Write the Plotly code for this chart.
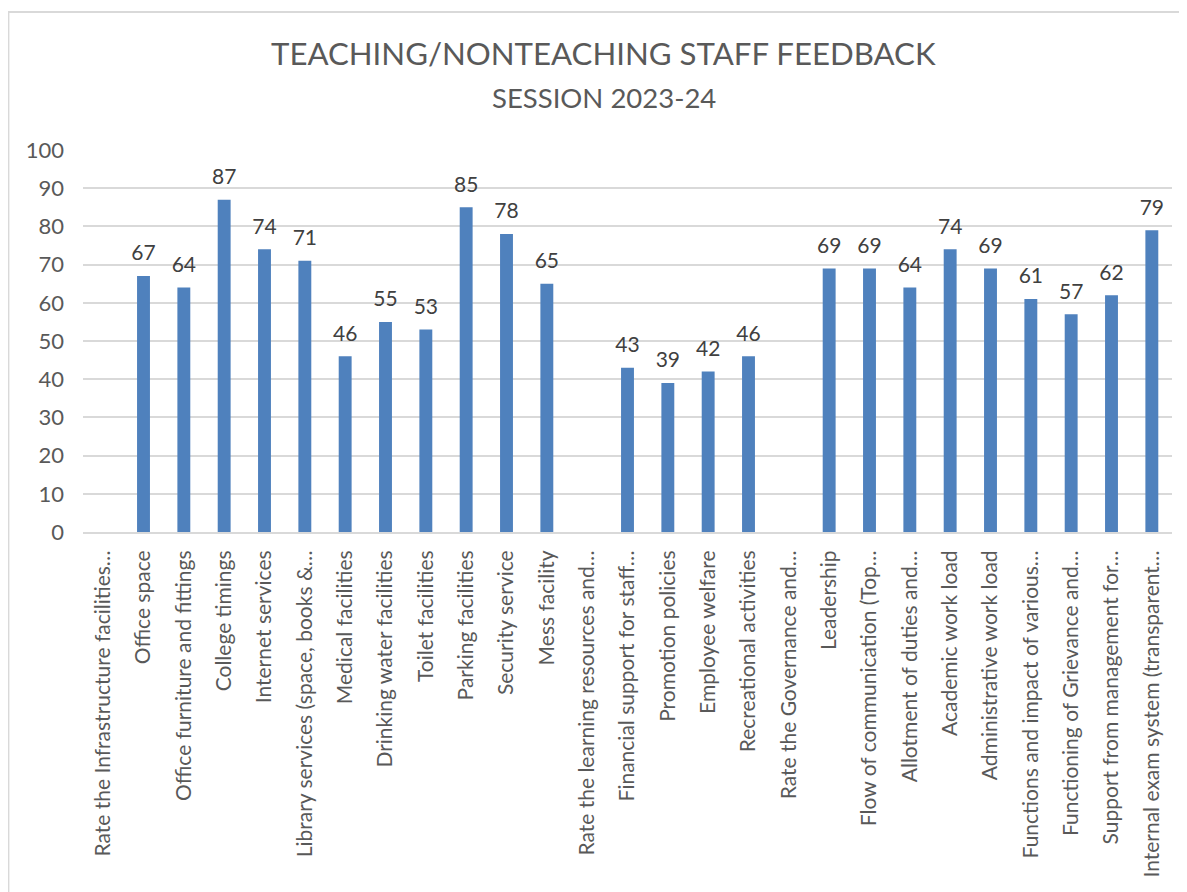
import plotly.graph_objects as go

categories = [
    "Rate the Infrastructure facilities…",
    "Office space",
    "Office furniture and fittings",
    "College timings",
    "Internet services",
    "Library services (space, books &…",
    "Medical facilities",
    "Drinking water facilities",
    "Toilet facilities",
    "Parking facilities",
    "Security service",
    "Mess facility",
    "Rate the learning resources and…",
    "Financial support for staff…",
    "Promotion policies",
    "Employee welfare",
    "Recreational activities",
    "Rate the Governance and…",
    "Leadership",
    "Flow of communication (Top…",
    "Allotment of duties and…",
    "Academic work load",
    "Administrative work load",
    "Functions and impact of various…",
    "Functioning of Grievance and…",
    "Support from management for…",
    "Internal exam system (transparent…",
]
values = [None, 67, 64, 87, 74, 71, 46, 55, 53, 85, 78, 65, None, 43, 39, 42, 46,
          None, 69, 69, 64, 74, 69, 61, 57, 62, 79]
y_ticks = [0, 10, 20, 30, 40, 50, 60, 70, 80, 90, 100]

FONT = "Lato"
GRAY = "#595959"

xs = list(range(len(categories)))
labels = [("" if v is None else str(v)) for v in values]

fig = go.Figure()
fig.add_trace(go.Bar(
    x=xs,
    y=values,
    marker=dict(color="#4F81BD", line=dict(width=0)),
    width=0.32,
    hoverinfo="x+y",
))
fig.add_trace(go.Scatter(
    x=xs,
    y=values,
    mode="markers+text",
    marker=dict(size=15, color="rgba(0,0,0,0)"),
    text=labels,
    textposition="top center",
    textfont=dict(family=FONT, size=21, color="#404040"),
    cliponaxis=False,
    hoverinfo="skip",
))

fig.update_layout(
    width=1187, height=892,
    margin=dict(l=75, r=23, t=142, b=368),
    paper_bgcolor="white", plot_bgcolor="white",
    showlegend=False,
    font=dict(family=FONT, color=GRAY),
    xaxis=dict(
        tickmode="array",
        tickvals=xs,
        ticktext=categories,
        tickangle=-90,
        tickfont=dict(family=FONT, size=21, color=GRAY),
        range=[-0.5, len(categories) - 0.5],
        showline=True, linecolor="#D9D9D9", linewidth=2,
        showgrid=False, ticks="", ticklen=0,
        ticklabelstandoff=8,
        automargin=False,
    ),
    yaxis=dict(
        range=[0, 100],
        tickvals=y_ticks,
        tickfont=dict(family=FONT, size=22, color=GRAY),
        showgrid=True, gridcolor="#D9D9D9", gridwidth=1.5,
        zeroline=False, showline=False, ticks="",
        ticklabelstandoff=18,
        automargin=False,
    ),
    annotations=[
        dict(text="TEACHING/NONTEACHING STAFF FEEDBACK", xref="paper", yref="paper",
             x=0.478, y=1, xanchor="center", yanchor="bottom", yshift=76,
             showarrow=False, font=dict(family=FONT, size=31.2, color=GRAY)),
        dict(text="SESSION 2023-24", xref="paper", yref="paper",
             x=0.478, y=1, xanchor="center", yanchor="bottom", yshift=34,
             showarrow=False, font=dict(family=FONT, size=27.5, color=GRAY)),
    ],
    shapes=[
        dict(type="rect", xref="paper", yref="paper",
             x0=-0.0685, x1=1.03, y0=-1.05, y1=1.361,
             line=dict(color="#D9D9D9", width=2), fillcolor="rgba(0,0,0,0)",
             layer="below"),
    ],
)

fig.write_html("out.html")
